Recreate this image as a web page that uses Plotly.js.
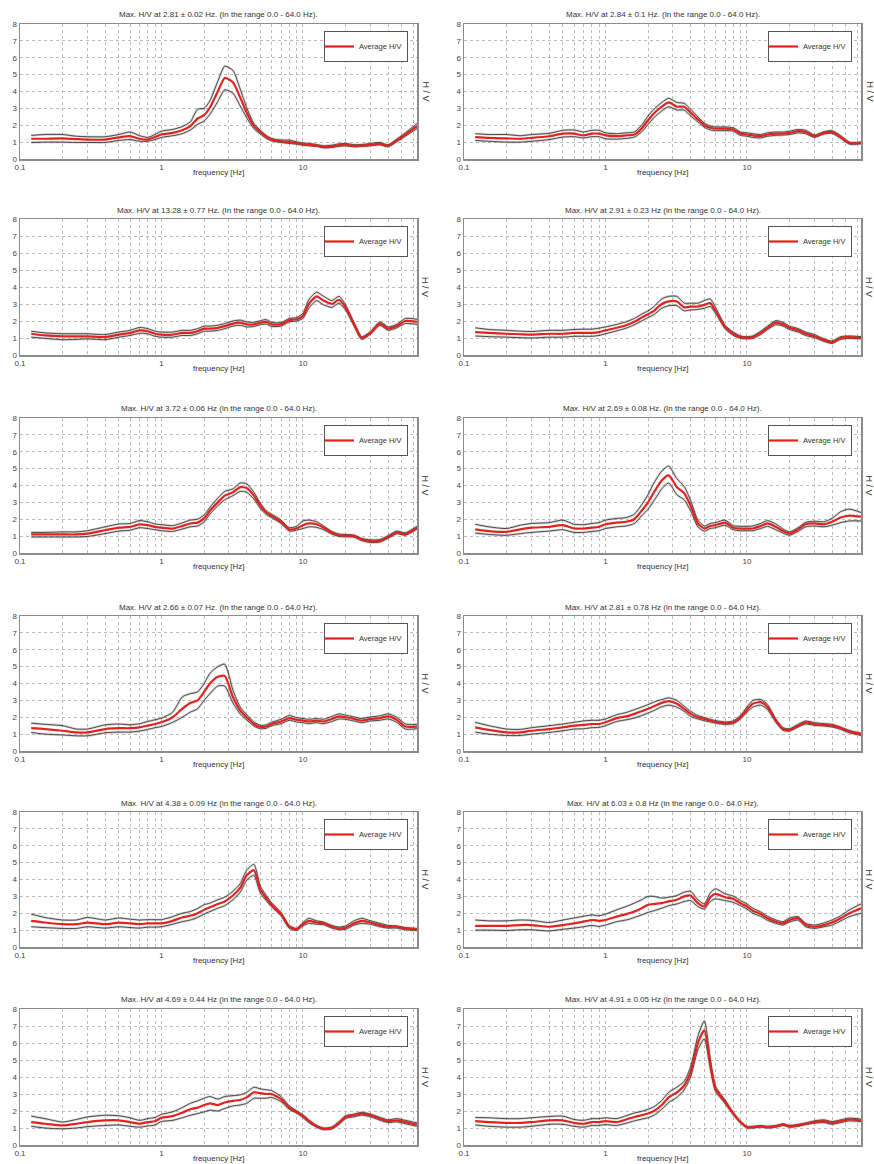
<!DOCTYPE html>
<html>
<head>
<meta charset="utf-8">
<script src="https://cdn.plot.ly/plotly-3.0.1.min.js"></script>
<style>html,body{margin:0;padding:0;background:#fff;}#chart{width:874px;height:1164px;}</style>
</head>
<body>
<div id="chart"></div>
<script>
// ---------- DATA ----------
const F = [0.12,0.15,0.2,0.25,0.3, 0.4,0.5,0.6,0.7,0.8, 0.9,1.0,1.2,1.4,1.6, 1.8,2.0,2.2,2.5,2.8, 3.2,3.6,4.0,4.5,5.0, 5.5,6.0,7.0,8.0,9.0, 10,11,12.5,14,16, 18,20,23,26,30, 35,40,46,53,64];

const titles = [
  "Max. H/V at 2.81 ± 0.02 Hz. (In the range 0.0 - 64.0 Hz).",
  "Max. H/V at 2.84 ± 0.1 Hz. (In the range 0.0 - 64.0 Hz).",
  "Max. H/V at 13.28 ± 0.77 Hz. (In the range 0.0 - 64.0 Hz).",
  "Max. H/V at 2.91 ± 0.23 Hz (in the range 0.0 - 64.0 Hz).",
  "Max. H/V at 3.72 ± 0.06 Hz (in the range 0.0 - 64.0 Hz).",
  "Max. H/V at 2.69 ± 0.08 Hz. (In the range 0.0 - 64.0 Hz).",
  "Max. H/V at 2.66 ± 0.07 Hz. (In the range 0.0 - 64.0 Hz).",
  "Max. H/V at 2.81 ± 0.78 Hz (in the range 0.0 - 64.0 Hz).",
  "Max. H/V at 4.38 ± 0.09 Hz (in the range 0.0 - 64.0 Hz).",
  "Max. H/V at 6.03 ± 0.8 Hz (in the range 0.0 - 64.0 Hz).",
  "Max. H/V at 4.69 ± 0.44 Hz (in the range 0.0 - 64.0 Hz).",
  "Max. H/V at 4.91 ± 0.05 Hz (in the range 0.0 - 64.0 Hz)."
];

const xTickVals = [0.1,0.2,0.3,0.4,0.5,0.6,0.7,0.8,0.9,1,2,3,4,5,6,7,8,9,10,20,30,40,50,60];
const xTickText = ['0.1','','','','','','','','','1','','','','','','','','','10','','','','',''];
const yTickVals = [0,1,2,3,4,5,6,7,8];
const yTickText = ['0','1','2','3','4','5','6','7','8'];
const legendName = 'Average H/V';
const xLabel = 'frequency [Hz]';
const yLabel = 'H / V';

const avg1 = [1.2,1.2,1.22,1.18,1.15, 1.15,1.28,1.35,1.2,1.15, 1.3,1.45,1.55,1.7,1.95, 2.4,2.6,3.05,4.0,4.8, 4.55,3.65,2.75,1.95,1.6, 1.32,1.15,1.05,1.0,0.95, 0.88,0.85,0.8,0.72,0.75, 0.82,0.85,0.78,0.8,0.85, 0.9,0.78,1.1,1.45,1.95];
const hi1  = [1.4,1.45,1.45,1.35,1.32, 1.32,1.45,1.6,1.38,1.28, 1.45,1.65,1.75,1.92,2.2, 2.95,3.0,3.45,4.6,5.5, 5.25,4.15,3.05,2.1,1.7, 1.4,1.22,1.12,1.12,1.02, 0.95,0.92,0.86,0.78,0.82, 0.9,0.92,0.85,0.86,0.92, 0.98,0.84,1.18,1.55,2.1];
const lo1  = [0.98,1.0,1.0,0.98,0.98, 0.98,1.1,1.15,1.05,1.05, 1.15,1.28,1.38,1.5,1.72, 2.05,2.25,2.65,3.4,4.1, 3.9,3.15,2.45,1.8,1.48, 1.22,1.08,0.98,0.92,0.88, 0.82,0.78,0.74,0.66,0.68, 0.75,0.78,0.72,0.74,0.78, 0.84,0.72,1.02,1.35,1.8];

const avg2 = [1.3,1.25,1.22,1.2,1.25, 1.35,1.5,1.5,1.4,1.5, 1.5,1.4,1.35,1.4,1.45, 1.8,2.3,2.7,3.1,3.35, 3.1,3.1,2.75,2.35,2.0, 1.85,1.8,1.8,1.75,1.5, 1.45,1.4,1.35,1.45,1.5, 1.5,1.55,1.65,1.6,1.35, 1.55,1.6,1.3,0.95,0.95];
const hi2  = [1.5,1.45,1.45,1.38,1.45, 1.52,1.7,1.72,1.6,1.7, 1.7,1.55,1.5,1.55,1.6, 2.0,2.55,2.95,3.35,3.6, 3.35,3.3,2.95,2.5,2.12, 1.95,1.9,1.9,1.85,1.6, 1.55,1.5,1.45,1.55,1.6, 1.6,1.65,1.75,1.7,1.42, 1.62,1.68,1.38,1.0,1.0];
const lo2  = [1.1,1.05,1.0,1.0,1.05, 1.15,1.3,1.32,1.25,1.32, 1.32,1.2,1.18,1.22,1.3, 1.6,2.05,2.45,2.85,3.1, 2.9,2.9,2.55,2.2,1.88, 1.72,1.68,1.68,1.65,1.4, 1.35,1.28,1.25,1.35,1.4, 1.42,1.45,1.55,1.5,1.28, 1.48,1.52,1.22,0.88,0.9];

const avg3 = [1.25,1.15,1.1,1.1,1.1, 1.05,1.2,1.3,1.45,1.4, 1.25,1.2,1.2,1.3,1.3, 1.4,1.55,1.55,1.6,1.7, 1.85,1.9,1.8,1.8,1.9, 1.95,1.8,1.8,2.05,2.1, 2.3,3.0,3.45,3.2,3.0, 3.25,2.8,1.8,1.0,1.3, 1.85,1.55,1.7,2.0,1.95];
const hi3  = [1.4,1.3,1.25,1.25,1.25, 1.2,1.35,1.45,1.62,1.55, 1.4,1.35,1.35,1.45,1.45, 1.55,1.7,1.7,1.75,1.85, 2.0,2.05,1.95,1.92,2.02, 2.08,1.92,1.9,2.15,2.2, 2.45,3.25,3.7,3.45,3.2, 3.45,2.95,1.9,1.08,1.38, 1.95,1.65,1.8,2.15,2.1];
const lo3  = [1.05,0.98,0.9,0.92,0.95, 0.9,1.05,1.15,1.28,1.25, 1.1,1.05,1.05,1.15,1.15, 1.25,1.4,1.4,1.45,1.55, 1.7,1.75,1.65,1.68,1.78, 1.82,1.68,1.7,1.95,2.0, 2.15,2.75,3.2,2.95,2.8, 3.05,2.65,1.7,0.92,1.22, 1.75,1.45,1.6,1.85,1.8];

const avg4 = [1.35,1.3,1.25,1.22,1.2, 1.25,1.25,1.3,1.3,1.3, 1.35,1.45,1.6,1.75,1.95, 2.2,2.4,2.6,3.0,3.15, 3.15,2.8,2.85,2.85,2.95, 3.05,2.6,1.65,1.25,1.05, 1.0,1.05,1.3,1.6,1.9, 1.8,1.6,1.45,1.25,1.1, 0.88,0.75,1.0,1.05,1.0];
const hi4  = [1.6,1.5,1.45,1.4,1.38, 1.45,1.45,1.5,1.52,1.52, 1.58,1.65,1.8,1.95,2.15, 2.4,2.6,2.85,3.3,3.45, 3.45,3.05,3.05,3.05,3.2, 3.3,2.8,1.75,1.35,1.12, 1.08,1.12,1.4,1.7,2.02, 1.92,1.7,1.55,1.35,1.2, 0.95,0.82,1.08,1.12,1.08];
const lo4  = [1.12,1.08,1.05,1.02,1.0, 1.05,1.05,1.1,1.1,1.1, 1.15,1.25,1.42,1.58,1.78, 2.0,2.2,2.38,2.75,2.9, 2.9,2.6,2.65,2.68,2.75, 2.85,2.45,1.55,1.15,0.98, 0.95,0.98,1.2,1.5,1.78, 1.7,1.5,1.35,1.15,1.02, 0.8,0.68,0.92,0.98,0.95];

const avg5 = [1.1,1.1,1.1,1.1,1.15, 1.35,1.5,1.55,1.7,1.65, 1.55,1.5,1.45,1.6,1.75, 1.8,2.05,2.5,3.0,3.4, 3.6,3.9,3.85,3.4,2.8, 2.4,2.2,1.85,1.4,1.45, 1.65,1.75,1.7,1.5,1.2, 1.05,1.03,1.0,0.8,0.7, 0.72,0.95,1.22,1.12,1.5];
const hi5  = [1.22,1.22,1.25,1.25,1.32, 1.55,1.72,1.75,1.92,1.85, 1.72,1.68,1.62,1.78,1.95, 2.0,2.25,2.7,3.25,3.65, 3.8,4.15,4.1,3.6,2.95, 2.5,2.3,1.95,1.5,1.58, 1.9,1.95,1.85,1.6,1.28, 1.12,1.1,1.06,0.87,0.78, 0.8,1.03,1.3,1.2,1.58];
const lo5  = [0.95,0.95,0.95,0.95,0.98, 1.15,1.3,1.35,1.5,1.45, 1.38,1.32,1.28,1.42,1.55, 1.6,1.85,2.3,2.8,3.15, 3.4,3.65,3.6,3.2,2.65, 2.28,2.1,1.75,1.3,1.35, 1.45,1.55,1.52,1.38,1.12, 0.98,0.96,0.94,0.73,0.62, 0.65,0.87,1.14,1.05,1.42];

const avg6 = [1.4,1.3,1.25,1.4,1.5, 1.55,1.65,1.45,1.45,1.5, 1.55,1.7,1.8,1.85,2.0, 2.5,3.0,3.6,4.3,4.6, 3.9,3.55,2.8,1.75,1.45, 1.6,1.65,1.8,1.5,1.45, 1.45,1.45,1.6,1.75,1.55, 1.3,1.15,1.4,1.7,1.75, 1.7,1.85,2.1,2.22,2.15];
const hi6  = [1.7,1.55,1.45,1.65,1.75, 1.8,1.95,1.7,1.68,1.75, 1.8,1.95,2.05,2.1,2.3, 2.85,3.45,4.15,4.85,5.15, 4.4,3.95,3.1,1.95,1.6, 1.75,1.8,1.95,1.62,1.58, 1.58,1.6,1.75,1.92,1.72, 1.42,1.25,1.5,1.82,1.88, 1.85,2.05,2.45,2.6,2.4];
const lo6  = [1.18,1.1,1.05,1.15,1.22, 1.3,1.38,1.22,1.22,1.28, 1.32,1.45,1.55,1.6,1.75, 2.2,2.6,3.1,3.8,4.15, 3.45,3.15,2.5,1.55,1.3, 1.45,1.5,1.65,1.38,1.32, 1.32,1.32,1.45,1.58,1.38, 1.18,1.05,1.28,1.55,1.6, 1.55,1.65,1.8,1.9,1.9];

const avg7 = [1.35,1.3,1.2,1.1,1.1, 1.3,1.35,1.35,1.4,1.5, 1.6,1.7,2.0,2.5,2.85, 3.0,3.5,4.0,4.4,4.45, 3.2,2.4,2.0,1.6,1.42, 1.45,1.6,1.75,1.95,1.85, 1.8,1.75,1.8,1.75,1.9, 2.05,2.0,1.9,1.8,1.9, 1.95,2.05,1.85,1.45,1.45];
const hi7  = [1.65,1.58,1.5,1.3,1.3, 1.55,1.6,1.55,1.62,1.75, 1.85,1.95,2.3,3.2,3.4, 3.5,4.0,4.6,5.0,5.15, 3.6,2.6,2.15,1.72,1.52, 1.55,1.7,1.88,2.1,1.98, 1.92,1.88,1.92,1.88,2.05, 2.2,2.12,2.02,1.92,2.02, 2.08,2.2,2.0,1.6,1.58];
const lo7  = [1.1,1.0,0.95,0.9,0.9, 1.08,1.12,1.12,1.18,1.28, 1.38,1.45,1.7,2.0,2.3, 2.5,3.0,3.4,3.85,3.85, 2.85,2.2,1.85,1.48,1.32, 1.35,1.5,1.62,1.82,1.72, 1.68,1.62,1.68,1.62,1.75, 1.9,1.88,1.78,1.68,1.78, 1.82,1.9,1.7,1.3,1.32];

const avg8 = [1.4,1.25,1.1,1.1,1.2, 1.3,1.4,1.5,1.55,1.6, 1.6,1.7,1.95,2.05,2.2, 2.35,2.5,2.65,2.85,2.95, 2.8,2.5,2.2,2.0,1.9, 1.8,1.72,1.65,1.7,2.0, 2.45,2.8,2.9,2.6,1.8, 1.3,1.25,1.5,1.7,1.6, 1.55,1.5,1.35,1.15,1.0];
const hi8  = [1.7,1.5,1.3,1.28,1.38, 1.5,1.6,1.7,1.78,1.82, 1.82,1.9,2.15,2.28,2.45, 2.6,2.75,2.9,3.05,3.15, 3.0,2.65,2.35,2.1,1.98, 1.88,1.8,1.72,1.78,2.1, 2.6,3.0,3.05,2.75,1.9, 1.38,1.32,1.58,1.78,1.68, 1.62,1.58,1.42,1.22,1.05];
const lo8  = [1.12,1.0,0.92,0.92,1.0, 1.1,1.2,1.3,1.32,1.38, 1.4,1.5,1.75,1.85,1.95, 2.1,2.25,2.4,2.62,2.72, 2.6,2.35,2.05,1.9,1.8, 1.72,1.65,1.58,1.62,1.9, 2.3,2.6,2.72,2.45,1.7, 1.22,1.18,1.42,1.6,1.52, 1.48,1.42,1.28,1.08,0.92];

const avg9 = [1.55,1.45,1.35,1.35,1.45, 1.35,1.45,1.4,1.35,1.4, 1.4,1.4,1.55,1.75,1.85, 2.0,2.2,2.35,2.55,2.7, 3.05,3.5,4.25,4.55,3.4, 2.9,2.5,1.95,1.2,1.05, 1.35,1.55,1.45,1.4,1.2, 1.1,1.15,1.4,1.55,1.45, 1.3,1.2,1.2,1.1,1.05];
const hi9  = [1.95,1.75,1.6,1.6,1.75, 1.6,1.72,1.65,1.6,1.62, 1.62,1.62,1.8,2.0,2.1, 2.28,2.5,2.6,2.8,2.95, 3.3,3.75,4.55,4.9,3.6, 3.05,2.62,2.05,1.28,1.1, 1.45,1.7,1.55,1.48,1.28, 1.18,1.25,1.55,1.7,1.55, 1.4,1.28,1.25,1.15,1.1];
const lo9  = [1.2,1.15,1.1,1.1,1.2, 1.12,1.2,1.15,1.12,1.18, 1.18,1.2,1.35,1.5,1.6, 1.75,1.95,2.1,2.3,2.45, 2.8,3.25,3.95,4.25,3.2, 2.75,2.38,1.85,1.12,0.98, 1.25,1.4,1.35,1.32,1.12, 1.02,1.05,1.3,1.4,1.35, 1.2,1.12,1.12,1.02,0.98];

const avg10 = [1.25,1.25,1.25,1.3,1.3, 1.2,1.3,1.4,1.5,1.6, 1.55,1.6,1.8,1.95,2.1, 2.3,2.5,2.55,2.6,2.7, 2.8,3.0,3.05,2.6,2.4, 2.95,3.15,2.95,2.85,2.6, 2.4,2.15,1.95,1.7,1.5, 1.4,1.6,1.7,1.3,1.2, 1.3,1.45,1.7,2.0,2.3];
const hi10  = [1.6,1.55,1.55,1.6,1.58, 1.45,1.6,1.72,1.82,1.9, 1.85,1.95,2.2,2.4,2.6, 2.8,3.0,3.0,2.9,2.95, 3.05,3.25,3.3,2.8,2.55, 3.2,3.45,3.15,3.02,2.75, 2.55,2.3,2.08,1.82,1.6, 1.5,1.72,1.8,1.4,1.3, 1.42,1.6,1.85,2.2,2.55];
const lo10  = [1.0,1.0,0.98,1.02,1.02, 0.95,1.05,1.12,1.2,1.28, 1.22,1.3,1.5,1.6,1.75, 1.9,2.05,2.15,2.3,2.45, 2.55,2.7,2.75,2.4,2.25, 2.7,2.85,2.75,2.65,2.45, 2.25,2.0,1.82,1.58,1.4, 1.3,1.48,1.6,1.2,1.1, 1.2,1.3,1.55,1.8,2.0];

const avg11 = [1.35,1.25,1.15,1.25,1.35, 1.45,1.45,1.35,1.25,1.35, 1.4,1.6,1.7,1.9,2.1, 2.2,2.35,2.45,2.35,2.5, 2.6,2.65,2.8,3.1,3.05, 3.0,3.0,2.7,2.2,1.95, 1.7,1.4,1.1,0.95,1.0, 1.3,1.65,1.75,1.85,1.75, 1.55,1.4,1.45,1.35,1.2];
const hi11  = [1.7,1.55,1.35,1.5,1.65, 1.75,1.72,1.6,1.45,1.55, 1.62,1.8,1.95,2.2,2.45, 2.6,2.75,2.85,2.7,2.85, 2.9,2.95,3.1,3.4,3.3, 3.25,3.2,2.85,2.3,2.02, 1.78,1.48,1.16,1.0,1.06, 1.38,1.72,1.82,1.92,1.82, 1.62,1.48,1.55,1.45,1.3];
const lo11  = [1.1,1.0,0.95,1.0,1.08, 1.15,1.18,1.1,1.05,1.12, 1.18,1.38,1.45,1.6,1.75, 1.85,1.95,2.05,2.0,2.15, 2.3,2.35,2.45,2.75,2.75, 2.75,2.8,2.55,2.1,1.88, 1.62,1.32,1.04,0.9,0.94, 1.22,1.56,1.66,1.76,1.66, 1.46,1.32,1.36,1.25,1.1];

const avg12 = [1.4,1.35,1.3,1.3,1.35, 1.45,1.45,1.3,1.25,1.35, 1.35,1.4,1.35,1.5,1.65, 1.75,1.85,2.0,2.35,2.8, 3.1,3.5,4.3,6.0,6.75, 4.8,3.3,2.55,1.85,1.35, 1.05,1.05,1.1,1.05,1.1, 1.2,1.1,1.15,1.25,1.35, 1.4,1.3,1.4,1.5,1.45];
const hi12  = [1.62,1.6,1.55,1.55,1.6, 1.68,1.7,1.5,1.45,1.55, 1.55,1.6,1.55,1.72,1.88, 1.98,2.1,2.25,2.62,3.1, 3.4,3.75,4.6,6.4,7.3, 5.1,3.45,2.65,1.92,1.4, 1.1,1.1,1.15,1.1,1.15, 1.25,1.15,1.22,1.3,1.42, 1.48,1.38,1.48,1.58,1.52];
const lo12  = [1.18,1.1,1.05,1.05,1.1, 1.22,1.22,1.1,1.05,1.15, 1.15,1.2,1.15,1.28,1.42, 1.52,1.6,1.75,2.1,2.5, 2.8,3.25,4.0,5.6,6.25, 4.5,3.15,2.45,1.78,1.3, 1.0,1.0,1.05,1.0,1.05, 1.15,1.05,1.1,1.2,1.28, 1.32,1.22,1.32,1.42,1.38];

// ---------- BUILD ----------
const panels = [
  {avg:avg1,hi:hi1,lo:lo1},{avg:avg2,hi:hi2,lo:lo2},
  {avg:avg3,hi:hi3,lo:lo3},{avg:avg4,hi:hi4,lo:lo4},
  {avg:avg5,hi:hi5,lo:lo5},{avg:avg6,hi:hi6,lo:lo6},
  {avg:avg7,hi:hi7,lo:lo7},{avg:avg8,hi:hi8,lo:lo8},
  {avg:avg9,hi:hi9,lo:lo9},{avg:avg10,hi:hi10,lo:lo10},
  {avg:avg11,hi:hi11,lo:lo11},{avg:avg12,hi:hi12,lo:lo12}
];

const W = 874, H = 1164;
const colPx = [[20,417],[464,861]];
const rowPx = [[24,159],[219,355],[418,553],[616,751],[812,947],[1009,1145]];
const FONT = 'Liberation Sans, Arial, sans-serif';

const traces = [];
const layout = {
  width: W, height: H,
  margin: {l:0,r:0,t:0,b:0},
  paper_bgcolor: '#ffffff', plot_bgcolor: '#ffffff',
  font: {family: FONT, size: 8, color: '#333'},
  showlegend: true,
  annotations: []
};

panels.forEach((p, i) => {
  const n = i + 1;
  const r = Math.floor(i / 2), c = i % 2;
  const xa = n === 1 ? 'x' : 'x' + n;
  const ya = n === 1 ? 'y' : 'y' + n;
  const xk = n === 1 ? 'xaxis' : 'xaxis' + n;
  const yk = n === 1 ? 'yaxis' : 'yaxis' + n;
  const lg = n === 1 ? 'legend' : 'legend' + n;
  const L = colPx[c][0], R = colPx[c][1], T = rowPx[r][0], B = rowPx[r][1];

  layout[xk] = {
    domain: [L / W, R / W], anchor: ya, type: 'log',
    range: [-1, Math.log10(64)],
    tickmode: 'array', tickvals: xTickVals, ticktext: xTickText,
    showgrid: true, gridcolor: '#bdbdbd', griddash: 'dot', gridwidth: 1,
    showline: true, mirror: true, linecolor: '#8c8c8c', linewidth: 1.5,
    ticks: '', zeroline: false, fixedrange: true,
    tickfont: {family: FONT, size: 8, color: '#444'}
  };
  layout[yk] = {
    domain: [1 - B / H, 1 - T / H], anchor: xa,
    range: [0, 8], tickmode: 'array', tickvals: yTickVals, ticktext: yTickText,
    showgrid: true, gridcolor: '#bdbdbd', griddash: 'dot', gridwidth: 1,
    showline: true, mirror: true, linecolor: '#8c8c8c', linewidth: 1.5,
    ticks: '', zeroline: false, fixedrange: true,
    tickfont: {family: FONT, size: 8, color: '#444'}
  };

  [p.hi, p.lo].forEach(s => {
    traces.push({x: F, y: s, xaxis: xa, yaxis: ya, mode: 'lines', showlegend: false, hoverinfo: 'skip',
      line: {color: 'rgba(120,120,120,0.28)', width: 2.6, shape: 'spline', smoothing: 0.6}});
    traces.push({x: F, y: s, xaxis: xa, yaxis: ya, mode: 'lines', showlegend: false, hoverinfo: 'skip',
      line: {color: '#222', width: 0.8, shape: 'spline', smoothing: 0.6}});
  });
  traces.push({x: F, y: p.avg, xaxis: xa, yaxis: ya, mode: 'lines', name: legendName, legend: lg,
    showlegend: true, line: {color: '#e3221d', width: 2.2, shape: 'spline', smoothing: 0.6}});

  layout[lg] = {
    x: (R - 9) / W, xanchor: 'right', y: 1 - (T + 7) / H, yanchor: 'top',
    bgcolor: '#ffffff', bordercolor: '#555', borderwidth: 1,
    font: {family: FONT, size: 7.5, color: '#333'}, itemwidth: 30,
    tracegroupgap: 0, indentation: -6
  };

  layout.annotations.push({
    xref: 'paper', yref: 'paper', x: (L + R) / 2 / W, y: 1 - (T - 9) / H,
    text: titles[i], showarrow: false, xanchor: 'center', yanchor: 'middle',
    font: {family: FONT, size: 8, color: '#333'}
  });
  layout.annotations.push({
    xref: 'paper', yref: 'paper', x: (L + R) / 2 / W, y: 1 - (B + 13.5) / H,
    text: xLabel, showarrow: false, xanchor: 'center', yanchor: 'middle',
    font: {family: FONT, size: 8, color: '#333'}
  });
  layout.annotations.push({
    xref: 'paper', yref: 'paper', x: (R + 8) / W, y: 1 - ((T + B) / 2) / H,
    text: yLabel, showarrow: false, xanchor: 'center', yanchor: 'middle', textangle: 90,
    font: {family: FONT, size: 9, color: '#333'}
  });
});

Plotly.newPlot('chart', traces, layout, {staticPlot: true, displayModeBar: false});
</script>
</body>
</html>
